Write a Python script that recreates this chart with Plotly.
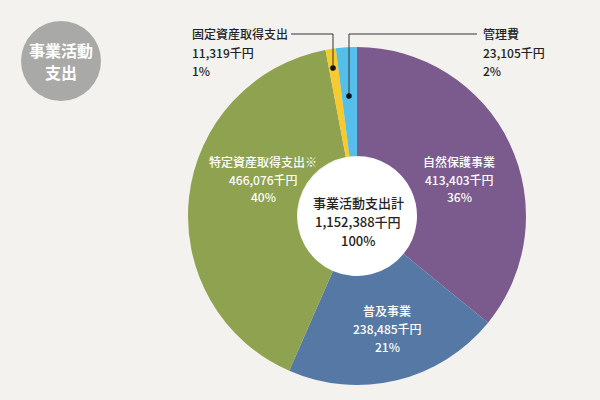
import plotly.graph_objects as go

# Data
categories = ['自然保護事業', '普及事業', '特定資産取得支出※', '固定資産取得支出', '管理費']
values = [413403, 238485, 466076, 11319, 23105]
colors = ['#7B5A8D', '#5579A4', '#8EA24F', '#F7CB2D', '#55BFEA']
total_label = '事業活動支出計'
badge_lines = ['事業活動', '支出']

total = sum(values)
percents = [round(v / total * 100) for v in values]

W, H = 600, 400
bg = '#F3F2EE'
font_jp = 'Noto Sans CJK JP'


def px(x):
    return x / W


def py(y):
    return 1 - y / H


fig = go.Figure()

fig.add_trace(go.Pie(
    labels=categories,
    values=values,
    sort=False,
    direction='clockwise',
    rotation=0,
    hole=0.355,
    marker=dict(colors=colors, line=dict(width=0)),
    textinfo='none',
    hoverinfo='label+value+percent',
    showlegend=False,
    domain=dict(x=[px(188), px(526)], y=[py(385), py(47)]),
))

shapes = []
# white centre disc, shows through the hole
shapes.append(dict(type='circle', xref='paper', yref='paper', layer='below',
                   x0=px(298), x1=px(418), y0=py(277), y1=py(157),
                   fillcolor='white', line=dict(width=0)))
# grey badge
shapes.append(dict(type='circle', xref='paper', yref='paper', layer='below',
                   x0=px(21), x1=px(101), y0=py(101), y1=py(21),
                   fillcolor='#A9A9A7', line=dict(width=0)))
# leader lines for the two thin slices
shapes.append(dict(type='path', xref='paper', yref='paper', layer='above',
                   path=f'M {px(291)} {py(34)} L {px(333)} {py(34)} L {px(333)} {py(68)}',
                   line=dict(color='#333333', width=1)))
shapes.append(dict(type='path', xref='paper', yref='paper', layer='above',
                   path=f'M {px(349)} {py(96)} L {px(349)} {py(34)} L {px(477)} {py(34)}',
                   line=dict(color='#333333', width=1)))
for (dx, dy) in [(333, 68), (349, 96)]:
    shapes.append(dict(type='circle', xref='paper', yref='paper', layer='above',
                       x0=px(dx - 2.8), x1=px(dx + 2.8), y0=py(dy + 2.8), y1=py(dy - 2.8),
                       fillcolor='#111111', line=dict(width=0)))

annotations = []


def block(x, y, lines, color, size, anchor='center', step=18, weight=500):
    for i, t in enumerate(lines):
        annotations.append(dict(
            x=px(x), y=py(y + i * step), xref='paper', yref='paper',
            text=t, showarrow=False, xanchor=anchor, yanchor='middle',
            font=dict(family=font_jp, size=size, color=color, weight=weight),
        ))


def lines_for(i):
    return [categories[i], f'{values[i]:,}千円', f'{percents[i]}%']


# inside labels
block(459, 161, lines_for(0), 'white', 12)
block(387, 310, lines_for(1), 'white', 12)
block(263, 161, lines_for(2), 'white', 12)
# outside labels
block(190, 34, lines_for(3), '#222222', 12, anchor='left')
block(481, 34, lines_for(4), '#222222', 12, anchor='left')
# centre
block(358, 202, [total_label, f'{total:,}千円', '100%'], '#222222', 13, step=19)
# badge
block(61, 50, badge_lines, 'white', 16, step=22, weight=700)

fig.update_layout(
    width=W, height=H,
    margin=dict(l=0, r=0, t=0, b=0),
    paper_bgcolor=bg,
    plot_bgcolor=bg,
    shapes=shapes,
    annotations=annotations,
)

# drop the default page margin so the 600x400 figure fills the window
fig.write_html('out.html', config={'displayModeBar': False},
               post_script="document.body.style.margin='0';")
